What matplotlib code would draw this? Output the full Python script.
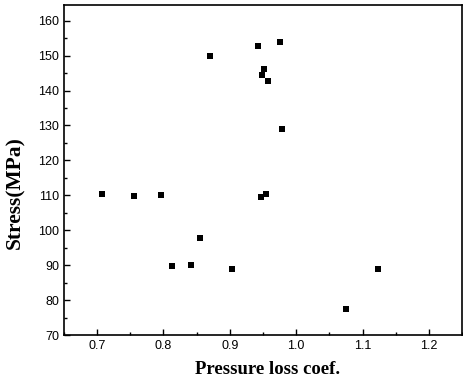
import matplotlib
matplotlib.use('Agg')
import matplotlib.pyplot as plt
from matplotlib.ticker import MultipleLocator

# values
pressure_loss = [0.708, 0.756, 0.797, 0.813, 0.841, 0.855, 0.870, 0.904,
                 0.943, 0.976, 0.952, 0.948, 0.957, 0.978, 0.947, 0.955,
                 1.075, 1.124]
stress = [110.3, 109.9, 110.0, 89.8, 90.0, 97.8, 150.0, 89.0,
          152.8, 154.0, 146.2, 144.4, 142.8, 129.1, 109.6, 110.5,
          77.4, 89.0]

fig = plt.figure(figsize=(4.63, 3.82), dpi=100)
ax = fig.add_axes([0.138, 0.123, 0.86, 0.864])

ax.plot(pressure_loss, stress, 's', color='black', ms=4.8, mew=0)

ax.set_xlim(0.65, 1.25)
ax.set_ylim(70, 164.5)
ax.xaxis.set_major_locator(MultipleLocator(0.1))
ax.xaxis.set_minor_locator(MultipleLocator(0.05))
ax.yaxis.set_major_locator(MultipleLocator(10))
ax.yaxis.set_minor_locator(MultipleLocator(5))
ax.tick_params(which='both', direction='in', top=False, right=False,
               labelsize=9, width=1)
ax.tick_params(which='major', length=4)
ax.tick_params(which='minor', length=2)
for lbl in ax.get_xticklabels() + ax.get_yticklabels():
    lbl.set_fontfamily('Liberation Sans')
for sp in ax.spines.values():
    sp.set_linewidth(1.2)

ax.set_xlabel('Pressure loss coef.', fontfamily='Liberation Serif',
              fontweight='bold', fontsize=13.5, va='center')
ax.set_ylabel('Stress(MPa)', fontfamily='Liberation Serif',
              fontweight='bold', fontsize=15.5, va='center')
ax.xaxis.set_label_coords(0.511, -0.103)
ax.yaxis.set_label_coords(-0.123, 0.433)

fig.savefig('out.png', dpi=100)
